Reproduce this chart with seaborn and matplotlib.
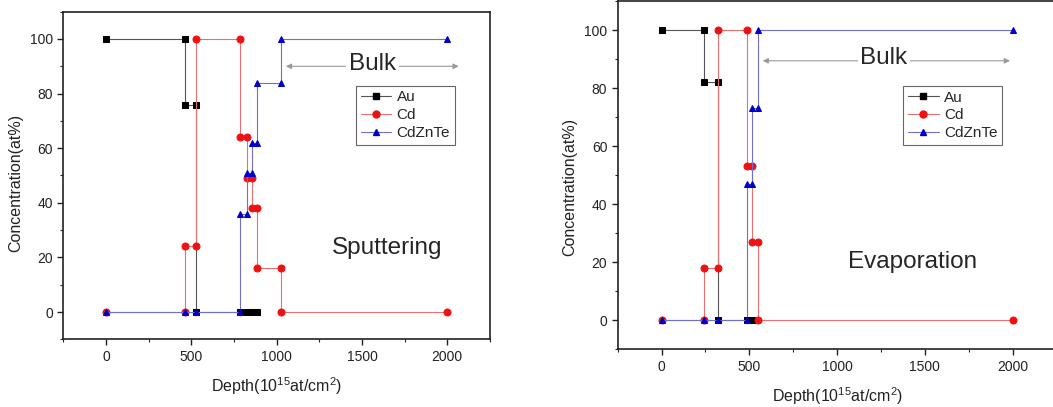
import matplotlib
matplotlib.use("Agg")
import matplotlib.pyplot as plt
import seaborn as sns
import pandas as pd

# ---- Data: Sputtering panel ----
sp_au_x = [0, 465, 465, 530, 530, 785, 825, 853, 887]
sp_au_y = [100, 100, 76, 76, 0, 0, 0, 0, 0]
sp_cd_x = [0, 465, 465, 530, 530, 785, 785, 825, 825, 853, 853, 887, 887, 1025, 1025, 2000]
sp_cd_y = [0, 0, 24, 24, 100, 100, 64, 64, 49, 49, 38, 38, 16, 16, 0, 0]
sp_czt_x = [0, 465, 530, 785, 785, 825, 825, 853, 853, 887, 887, 1025, 1025, 2000]
sp_czt_y = [0, 0, 0, 0, 36, 36, 51, 51, 62, 62, 84, 84, 100, 100]

# ---- Data: Evaporation panel ----
ev_au_x = [0, 240, 240, 323, 323, 484, 513]
ev_au_y = [100, 100, 82, 82, 0, 0, 0]
ev_cd_x = [0, 240, 240, 323, 323, 484, 484, 513, 513, 547, 547, 2000]
ev_cd_y = [0, 0, 18, 18, 100, 100, 53, 53, 27, 27, 0, 0]
ev_czt_x = [0, 240, 323, 484, 484, 513, 513, 547, 547, 2000]
ev_czt_y = [0, 0, 0, 0, 47, 47, 73, 73, 100, 100]

series_names = ["Au", "Cd", "CdZnTe"]
x_ticks = [0, 500, 1000, 1500, 2000]
y_ticks = [0, 20, 40, 60, 80, 100]

sns.set_theme(style="ticks")
plt.rcParams['font.family'] = ['Liberation Sans', 'DejaVu Sans']
plt.rcParams['mathtext.fontset'] = 'custom'
plt.rcParams['mathtext.rm'] = 'Liberation Sans'

fig = plt.figure(figsize=(10.53, 4.07), dpi=100)
ax1 = fig.add_axes([0.0601, 0.1663, 0.4052, 0.8050])
ax2 = fig.add_axes([0.5866, 0.1418, 0.4168, 0.8557])

styles = {
    "Au": dict(color="black", marker="s", line="#555555"),
    "Cd": dict(color="#ee1111", marker="o", line="#e87070"),
    "CdZnTe": dict(color="#0000cc", marker="^", line="#7070c8"),
}


def draw(ax, data, label_text, bulk_x0, bulk_x1, bulk_y, bulk_tx, text_x, text_y, leg_anchor, ylab_y, xlab_y):
    from matplotlib.lines import Line2D
    handles = []
    for name, (xs, ys) in zip(series_names, data):
        st = styles[name]
        df = pd.DataFrame({"x": xs, "y": ys})
        sns.lineplot(data=df, x="x", y="y", sort=False, estimator=None, ax=ax,
                     color=st["line"], lw=0.8, marker=st["marker"], markersize=5,
                     markerfacecolor=st["color"], markeredgecolor=st["color"], legend=False)
        handles.append(Line2D([], [], color=st["line"], lw=0.8, marker=st["marker"], markersize=5,
                              markerfacecolor=st["color"], markeredgecolor=st["color"], label=name))
    ax.set_xlim(-250, 2250)
    ax.set_ylim(-10, 110)
    ax.set_xticks(x_ticks)
    ax.set_yticks(y_ticks)
    ax.set_xticks([-250, 250, 750, 1250, 1750, 2250], minor=True)
    ax.set_yticks([-10, 10, 30, 50, 70, 90, 110], minor=True)
    ax.tick_params(which="major", direction="out", length=4, width=1, labelsize=10, colors="#222222")
    ax.tick_params(which="minor", direction="out", length=2.5, width=0.8)
    for sp in ax.spines.values():
        sp.set_visible(True)
        sp.set_linewidth(1.2)
        sp.set_color("#222222")
    ax.set_xlabel(r"Depth(10$^{15}$at/cm$^{2}$)", fontsize=11.5, color="#222222")
    ax.set_ylabel("Concentration(at%)", fontsize=11.5, color="#222222")
    ax.yaxis.set_label_coords(-0.093, ylab_y)
    ax.xaxis.set_label_coords(0.5, xlab_y)
    ax.annotate("", xy=(bulk_x0, bulk_y), xytext=(bulk_x1, bulk_y),
                arrowprops=dict(arrowstyle="<|-|>", color="#999999", lw=0.8, mutation_scale=8))
    ax.text(bulk_tx, bulk_y + 1, "Bulk", fontsize=17.5, ha="center", va="center",
            bbox=dict(facecolor="white", edgecolor="none", pad=2))
    ax.text(text_x, text_y, label_text, fontsize=17.5, ha="center", va="center")
    leg = ax.legend(handles=handles, loc="upper left", bbox_to_anchor=leg_anchor, borderaxespad=0,
                    fontsize=11, frameon=True, fancybox=False, framealpha=1, edgecolor="#666666",
                    handlelength=2.0, handletextpad=0.35, labelspacing=0.25, borderpad=0.3)
    leg.get_frame().set_linewidth(0.8)


draw(ax1, [(sp_au_x, sp_au_y), (sp_cd_x, sp_cd_y), (sp_czt_x, sp_czt_y)], "Sputtering",
     1038, 2083, 90, 1563, 1645, 23.5, (0.686, 0.774), 0.476, -0.109)
draw(ax2, [(ev_au_x, ev_au_y), (ev_cd_x, ev_cd_y), (ev_czt_x, ev_czt_y)], "Evaporation",
     560, 2000, 89.4, 1267, 1428, 20, (0.651, 0.756), 0.467, -0.102)

fig.savefig("out.png", dpi=100)
